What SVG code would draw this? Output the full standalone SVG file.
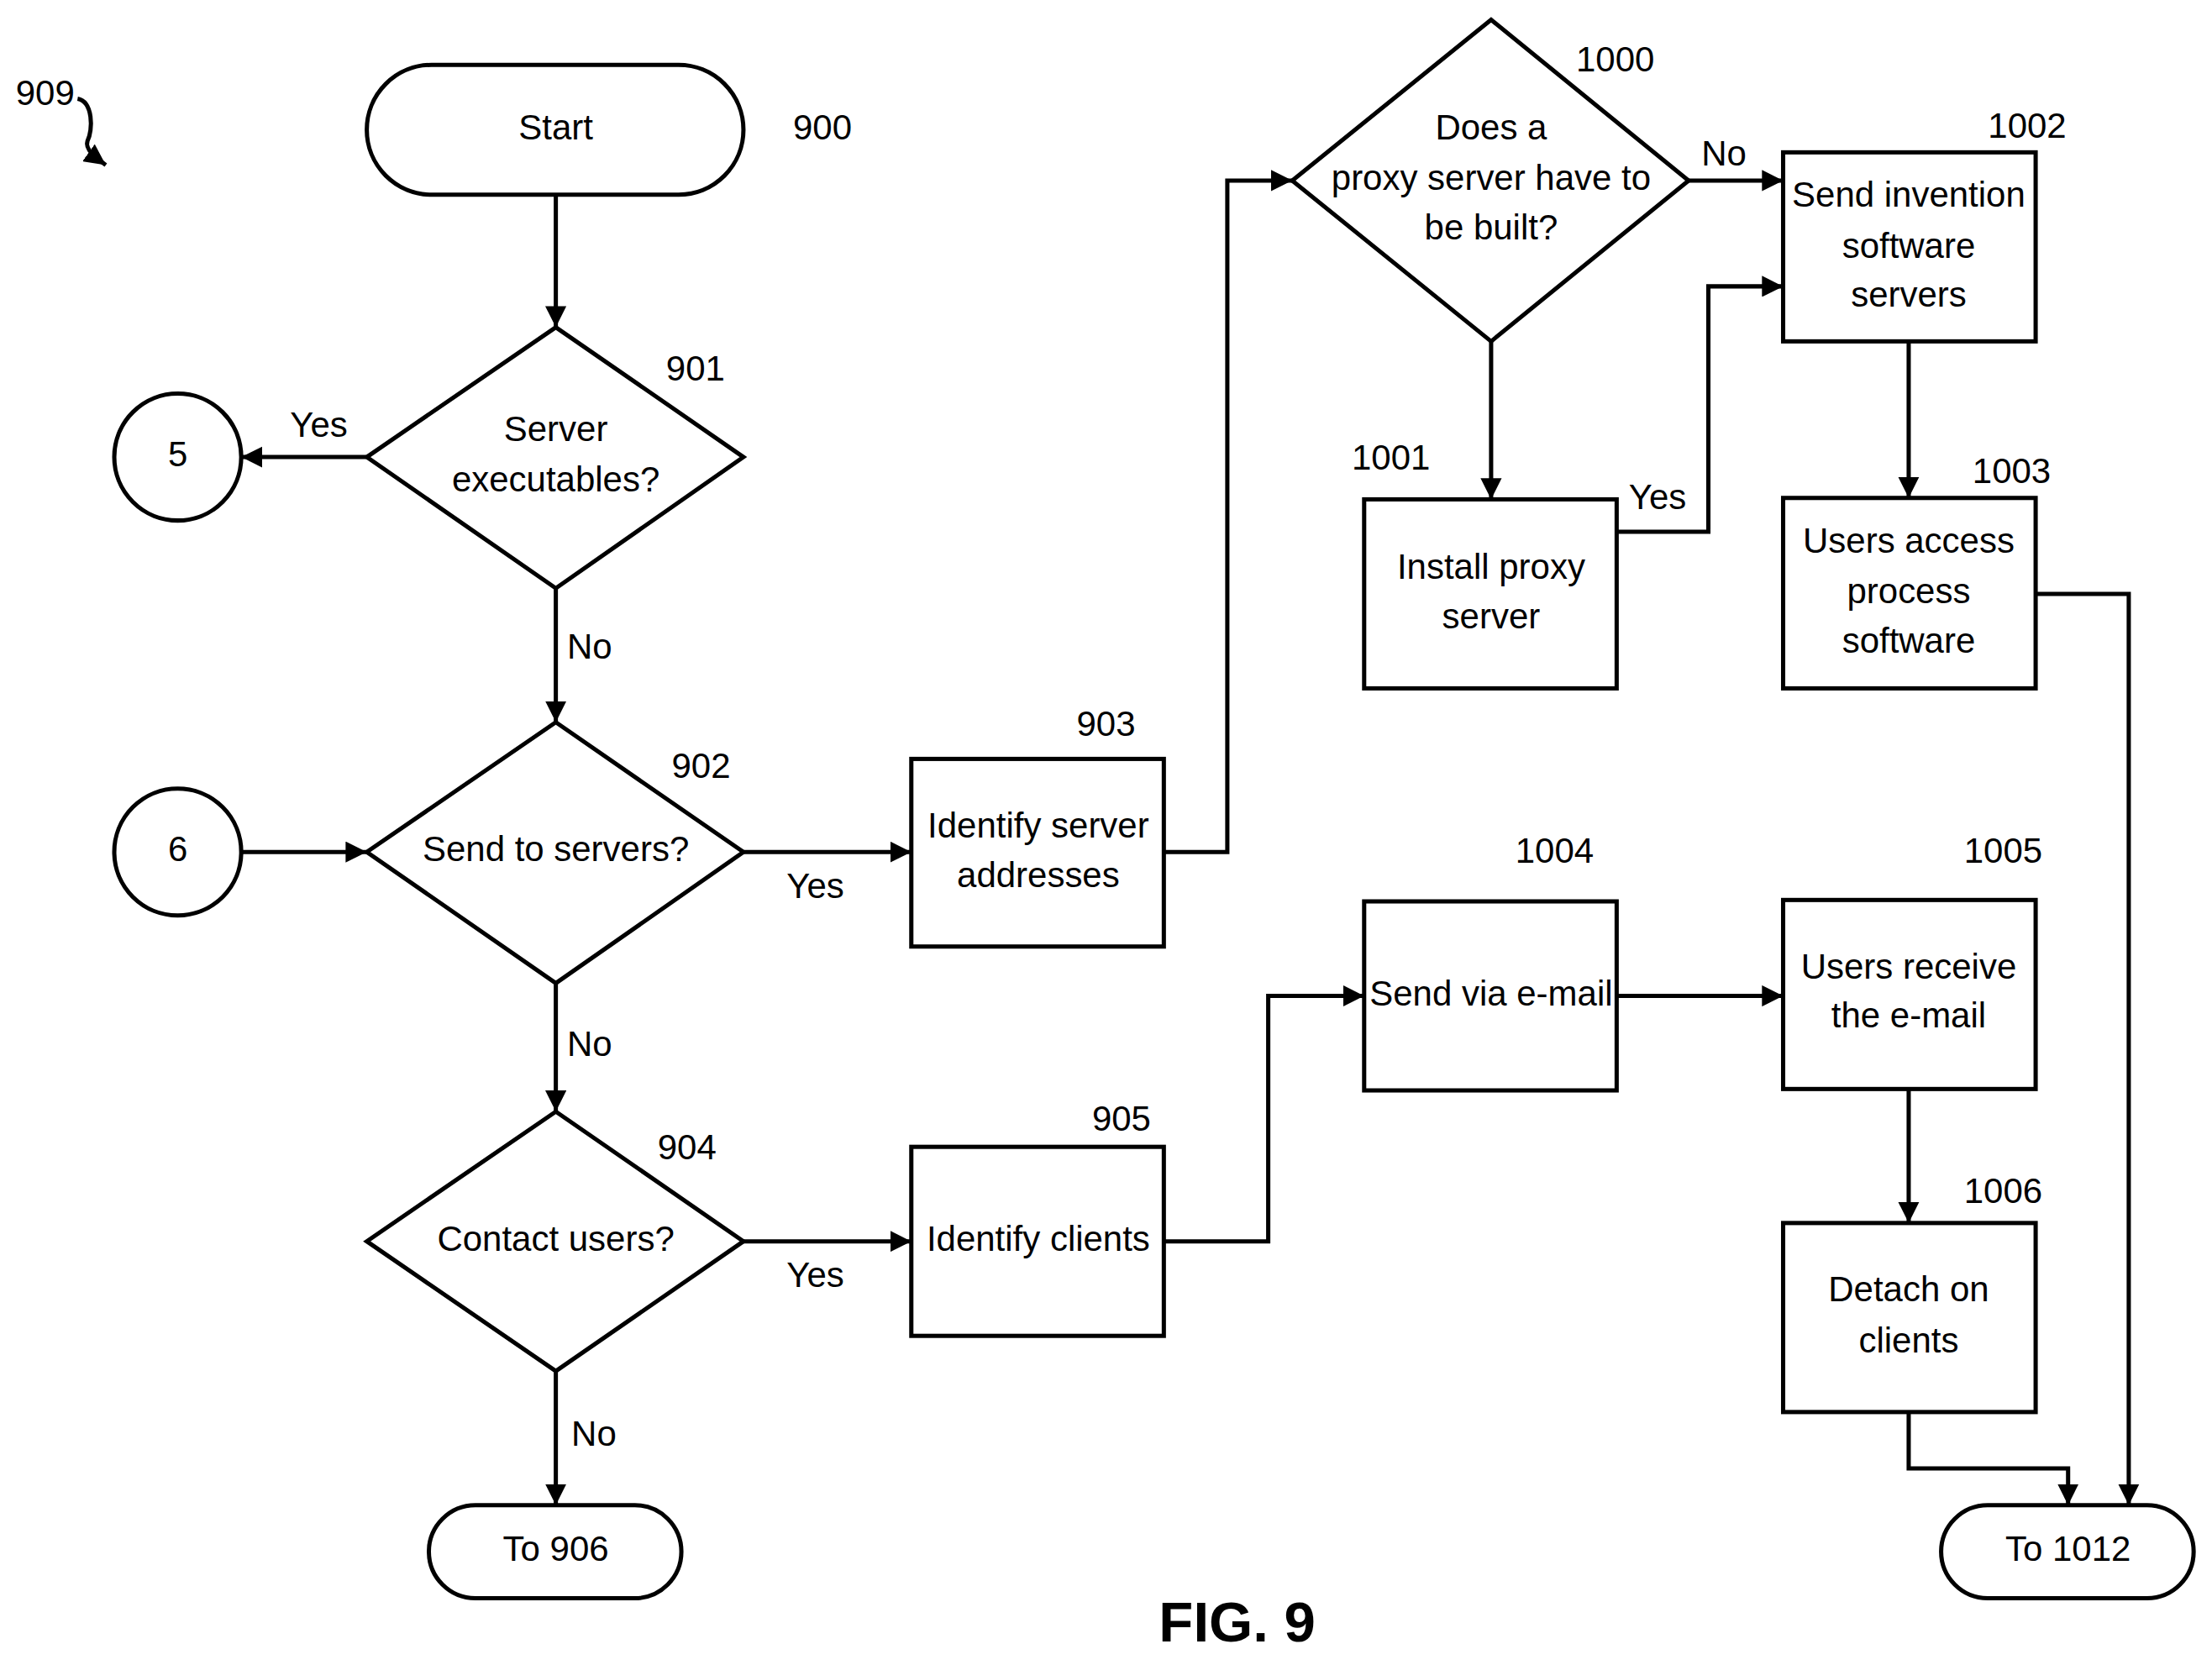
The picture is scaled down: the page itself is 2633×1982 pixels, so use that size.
<svg xmlns="http://www.w3.org/2000/svg" width="2633" height="1982" viewBox="0 0 2633 1982">
<defs>
<marker id="ah" viewBox="0 0 10 10" refX="10" refY="5" markerWidth="5" markerHeight="5" orient="auto" markerUnits="strokeWidth"><path d="M0,0 L10,5 L0,10 z" fill="#000"/></marker>
<style>
.s{fill:#fff;stroke:#000;stroke-width:3}
.c{fill:none;stroke:#000;stroke-width:3;marker-end:url(#ah)}
text{font-family:"Liberation Sans",Arial,sans-serif;font-size:25px;fill:#000;text-anchor:middle;dominant-baseline:middle}
.fig{font-weight:bold;font-size:40px}
</style>
</defs>
<rect width="2633" height="1982" fill="#fff"/>
<g transform="scale(1.6792)">
<g id="connectors">
<path class="c" d="M394,138 V232"/>
<path class="c" d="M260,324 H171"/>
<path class="c" d="M394,417 V512"/>
<path class="c" d="M171,604 H260"/>
<path class="c" d="M527,604 H646"/>
<path class="c" d="M825,604 H870 V128 H916"/>
<path class="c" d="M1197,128 H1264"/>
<path class="c" d="M1057,242 V354"/>
<path class="c" d="M1146,377 H1211 V203 H1264"/>
<path class="c" d="M1353,242 V353"/>
<path class="c" d="M1443,421 H1509 V1067"/>
<path class="c" d="M394,697 V788"/>
<path class="c" d="M527,880 H646"/>
<path class="c" d="M825,880 H899 V706 H967"/>
<path class="c" d="M1146,706 H1264"/>
<path class="c" d="M1353,772 V867"/>
<path class="c" d="M1353,1001 V1041 H1466 V1067"/>
<path class="c" d="M394,972 V1067"/>
<path class="c" d="M55,70 C66,72 66,92 62,100 C60,106 68,112 75,117"/>
<text x="226" y="303">Yes</text>
<text x="418" y="460">No</text>
<text x="578" y="630">Yes</text>
<text x="1222" y="111">No</text>
<text x="1175" y="354">Yes</text>
<text x="418" y="742">No</text>
<text x="578" y="906">Yes</text>
<text x="421" y="1018">No</text>
</g>
<text x="32" y="68">909</text>
<g id="n900"><rect class="s" x="260" y="46" width="267" height="92" rx="46"/><text x="394" y="92">Start</text><text x="583" y="92">900</text></g>
<g id="n901"><polygon class="s" points="394,232 527,324 394,417 260,324"/><text x="394" y="306">Server</text><text x="394" y="342">executables?</text><text x="493" y="263">901</text></g>
<g id="c5"><circle class="s" cx="126" cy="324" r="45"/><text x="126" y="324">5</text></g>
<g id="n902"><polygon class="s" points="394,512 527,604 394,697 260,604"/><text x="394" y="604">Send to servers?</text><text x="497" y="545">902</text></g>
<g id="c6"><circle class="s" cx="126" cy="604" r="45"/><text x="126" y="604">6</text></g>
<g id="n903"><rect class="s" x="646" y="538" width="179" height="133"/><text x="736" y="587">Identify server</text><text x="736" y="622">addresses</text><text x="784" y="515">903</text></g>
<g id="n1000"><polygon class="s" points="1057,14 1197,128 1057,242 916,128"/><text x="1057" y="92">Does a</text><text x="1057" y="128">proxy server have to</text><text x="1057" y="163">be built?</text><text x="1145" y="44">1000</text></g>
<g id="n1002"><rect class="s" x="1264" y="108" width="179" height="134"/><text x="1353" y="140">Send invention</text><text x="1353" y="176">software</text><text x="1353" y="211">servers</text><text x="1437" y="91">1002</text></g>
<g id="n1001"><rect class="s" x="967" y="354" width="179" height="134"/><text x="1057" y="404">Install proxy</text><text x="1057" y="439">server</text><text x="986" y="326">1001</text></g>
<g id="n1003"><rect class="s" x="1264" y="353" width="179" height="135"/><text x="1353" y="385">Users access</text><text x="1353" y="421">process</text><text x="1353" y="456">software</text><text x="1426" y="336">1003</text></g>
<g id="n904"><polygon class="s" points="394,788 527,880 394,972 260,880"/><text x="394" y="880">Contact users?</text><text x="487" y="815">904</text></g>
<g id="n905"><rect class="s" x="646" y="813" width="179" height="134"/><text x="736" y="880">Identify clients</text><text x="795" y="795">905</text></g>
<g id="n1004"><rect class="s" x="967" y="639" width="179" height="134"/><text x="1057" y="706">Send via e-mail</text><text x="1102" y="605">1004</text></g>
<g id="n1005"><rect class="s" x="1264" y="638" width="179" height="134"/><text x="1353" y="687">Users receive</text><text x="1353" y="722">the e-mail</text><text x="1420" y="605">1005</text></g>
<g id="n1006"><rect class="s" x="1264" y="867" width="179" height="134"/><text x="1353" y="916">Detach on</text><text x="1353" y="952">clients</text><text x="1420" y="846">1006</text></g>
<g id="t1012"><rect class="s" x="1376" y="1067" width="179" height="66" rx="33"/><text x="1466" y="1100">To 1012</text></g>
<g id="t906"><rect class="s" x="304" y="1067" width="179" height="66" rx="33"/><text x="394" y="1100">To 906</text></g>
<text class="fig" x="877" y="1153">FIG. 9</text>
</g>
</svg>
